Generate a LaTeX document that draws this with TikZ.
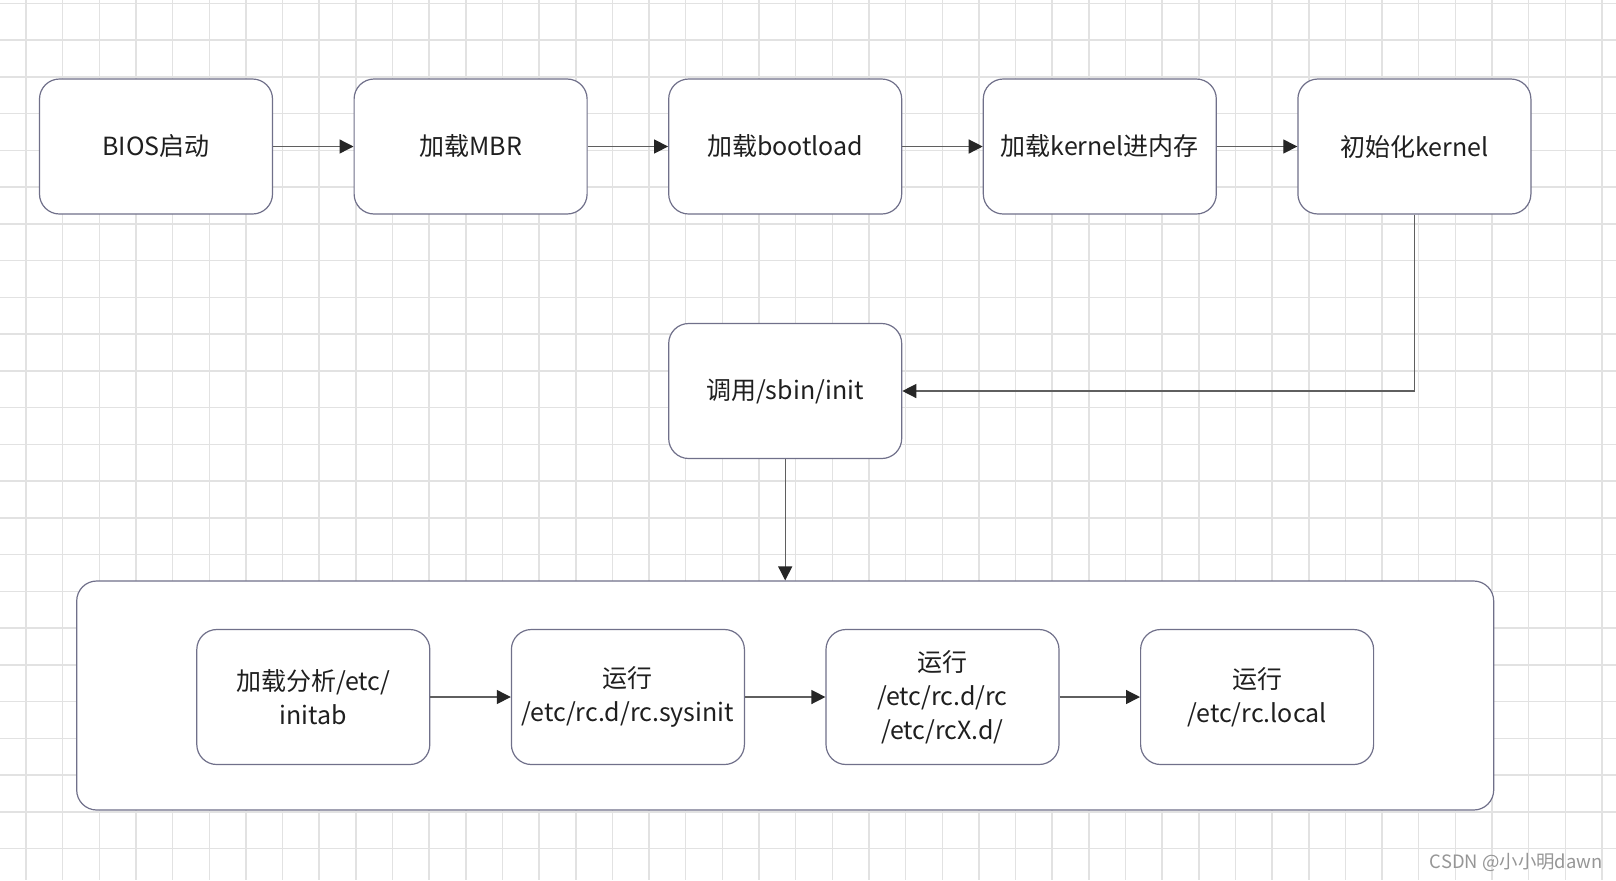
\documentclass[tikz,border=0pt]{standalone}
\usepackage{fontspec}
\setmainfont{Noto Sans CJK SC}
\usetikzlibrary{positioning,arrows.meta}
\definecolor{boxline}{RGB}{112,112,138}
\definecolor{arrowline}{RGB}{95,95,95}
\definecolor{gridline}{RGB}{226,226,226}
\definecolor{marktext}{RGB}{150,150,150}

\begin{document}
\begin{tikzpicture}[x=0.5pt,y=-0.5pt,node distance=157.3pt,
box/.style={draw=boxline,line width=0.6pt,fill=white,rounded corners=10pt,
  minimum width=116.5pt,minimum height=67.5pt,inner sep=1pt,align=center,
  font=\fontsize{12.5}{17}\selectfont,text=black!88},
group/.append style={box,minimum width=708.5pt,minimum height=114.5pt},
]

\tikzstyle{flow} = [-{Triangle[length=7pt,width=7pt,color=black!85]},color=arrowline,line width=0.65pt]

  \useasboundingbox (0,0) rectangle (1616,880);
  \fill[white] (0,0) rectangle (1616,880);
  \foreach \i in {0,...,43} \draw[gridline,line width=0.75pt] ({26+36.65*\i},0) -- ({26+36.65*\i},880);
  \foreach \j in {0,...,23} \draw[gridline,line width=0.75pt] (0,{3.25+36.75*\j}) -- (1616,{3.25+36.75*\j});

  \node (bios)       [box] at (156,146.5)            {BIOS启动};
  \node (mbr)        [box,right of=bios]             {加载MBR};
  \node (bootload)   [box,right of=mbr]              {加载bootload};
  \node (kernelload) [box,right of=bootload]         {加载kernel进内存};
  \node (kernelinit) [box,right of=kernelload]       {初始化kernel};
  \node (sbininit)   [box,node distance=122.25pt,below of=bootload] {调用/sbin/init};
  \node (stages)     [group,node distance=152.25pt,below of=sbininit] {};
  \node (initab)     [box] at ([xshift=-235.95pt,yshift=-0.75pt]stages.center) {加载分析/etc/\\initab};
  \node (sysinit)    [box,right of=initab]           {运行\\/etc/rc.d/rc.sysinit};
  \node (rcd)        [box,right of=sysinit]          {运行\\/etc/rc.d/rc\\/etc/rcX.d/};
  \node (rclocal)    [box,right of=rcd]              {运行\\/etc/rc.local};
  \node (mark)       [anchor=east,inner sep=0pt,text=marktext,font=\fontsize{9.2}{9.2}\selectfont] at (1603,862) {CSDN @小小明dawn};

\path[flow] (bios.east) edge (mbr.west);
\path[flow] (mbr.east) edge (bootload.west);
\path[flow] (bootload.east) edge (kernelload.west);
\path[flow] (kernelload.east) edge (kernelinit.west);

\draw[flow] (kernelinit.south) |- (sbininit.east);
\path[flow] (sbininit.south) edge (stages.north);

\path[flow] (initab.east) edge (sysinit.west);
\path[flow] (sysinit.east) edge (rcd.west);
\path[flow] (rcd.east) edge (rclocal.west);

\end{tikzpicture}
\end{document}
